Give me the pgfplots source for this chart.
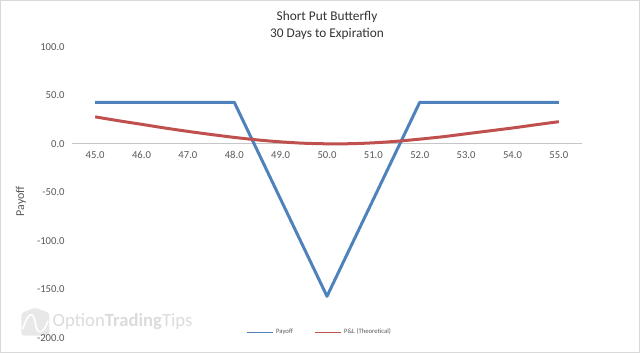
\documentclass[border=0pt]{standalone}
\usepackage{pgfplots}
\pgfplotsset{compat=1.18}
\usepackage{fontspec}
\setmainfont{Carlito}
\definecolor{xlblue}{HTML}{4F81BD}
\definecolor{xlred}{HTML}{C0504D}
\definecolor{txt}{HTML}{595959}
\begin{document}
\begin{tikzpicture}
\draw[gray!30, line width=0.75pt] (0.375pt,0.375pt) rectangle (479.625pt,264.375pt);
% watermark
\fill[gray!18, rounded corners=2pt] (16pt,13pt) -- (37pt,13pt) -- (37pt,30pt) -- (26.5pt,34pt) -- (16pt,30pt) -- cycle;
\draw[white, line width=1.2pt] (17pt,18pt) .. controls (22pt,32pt) and (25pt,32pt) .. (27pt,20pt) .. controls (29pt,12pt) and (33pt,16pt) .. (36pt,24pt);
\node[text=gray!28, font=\fontsize{14}{16}\selectfont, anchor=west] at (36pt,23.5pt) {Option\textbf{Trading}Tips};
% titles
\node[text=black!80, font=\fontsize{10}{12}\selectfont] at (245.25pt,252pt) {Short Put Butterfly};
\node[text=black!80, font=\fontsize{10}{12}\selectfont] at (245.25pt,239.25pt) {30 Days to Expiration};
\begin{axis}[
  at={(54pt,11.25pt)}, anchor=south west,
  scale only axis, width=382.5pt, height=218.25pt,
  xmin=44.5, xmax=55.5, ymin=-200, ymax=100,
  axis x line=middle, axis y line=left,
  hide obscured x ticks=false, hide obscured y ticks=false,
  x axis line style={-, draw=gray!45, line width=0.75pt},
  y axis line style={draw=none},
  major tick length=0pt,
  xtick={45,46,...,55}, ytick={-200,-150,...,100},
  ticklabel style={text=txt, font=\fontsize{8}{9.5}\selectfont},
  /pgf/number format/.cd, fixed, fixed zerofill, precision=1, assume math mode=true,
  /pgfplots/.cd,
  xticklabel style={yshift=-2pt},
  yticklabel style={xshift=-2pt},
  ylabel={Payoff},
  ylabel style={at={(axis description cs:-0.1,0.47)}, rotate=0, anchor=center, text=txt, font=\fontsize{9}{10}\selectfont},
  clip=false,
  legend style={at={(axis description cs:0.486,0.02)}, anchor=center, draw=none, fill=none,
    legend columns=2, font=\fontsize{5}{6}\selectfont, text=txt,
    /tikz/every even column/.append style={column sep=14pt}},
  legend image code/.code={\draw[#1, line width=1pt] (0pt,0pt) -- (19.5pt,0pt);},
]
\addplot[xlblue, line width=2.25pt, line join=round] coordinates {
(45,43) (48,43) (50,-157) (52,43) (55,43)};
\addlegendentry{Payoff}
\addplot[xlred, line width=2.25pt, smooth] coordinates {
(45,28) (45.5,24) (46,20.3) (46.5,16.5) (47,13) (47.5,9.8) (48,6.8) (48.5,4.2) (49,2.2) (49.5,0.8) (50,0.2) (50.5,0.3) (51,1.2) (51.5,2.8) (52,5) (52.5,7.5) (53,10.5) (53.5,13.5) (54,16.5) (54.5,19.8) (55,23)};
\addlegendentry{P\&L (Theoretical)}
\end{axis}
\end{tikzpicture}
\end{document}
